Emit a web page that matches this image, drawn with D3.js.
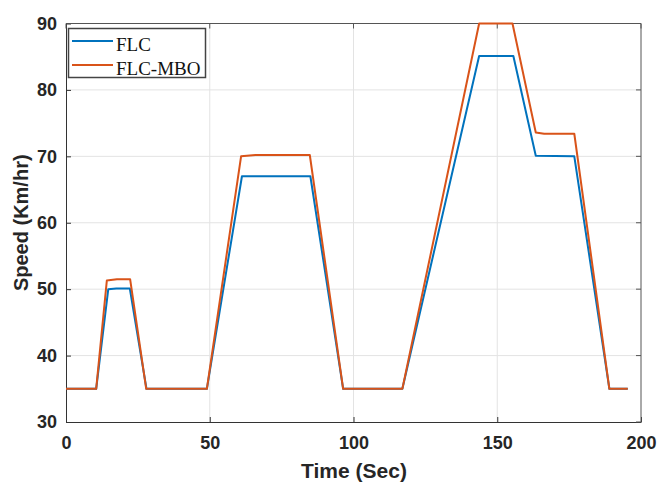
<!DOCTYPE html>
<html><head><meta charset="utf-8">
<script src="https://cdn.jsdelivr.net/npm/d3@7"></script>
<style>body{margin:0;background:#fff}</style>
</head><body>
<svg id="c" width="659" height="487"></svg>
<script>
const xTicks = [0, 50, 100, 150, 200];
const yTicks = [30, 40, 50, 60, 70, 80, 90];
const seriesNames = ["FLC", "FLC-MBO"];
const flcT = [0, 10.5, 14.7, 17.5, 22.2, 28, 49, 61.2, 85, 96.4, 117, 143.7, 155.6, 163.4, 176.8, 189, 195.4];
const flcV = [35, 35, 50, 50.1, 50.1, 35, 35, 67, 67, 35, 35, 85.1, 85.1, 70.1, 70, 35, 35];
const mboT = [0, 10.5, 14.2, 17.7, 22.3, 27.9, 49, 60.9, 65.9, 84.8, 96.4, 117, 143.7, 155.3, 163.4, 166.3, 176.8, 189, 195.4];
const mboV = [35, 35, 51.3, 51.5, 51.5, 35, 35, 70, 70.2, 70.2, 35, 35, 90, 90, 73.6, 73.4, 73.4, 35, 35];

const svg = d3.select("#c");
const L = 66, R = 641, T = 23.5, B = 422;
const x = d3.scaleLinear().domain([0, 200]).range([L, R]);
const y = d3.scaleLinear().domain([30, 90]).range([B, T]);

// grid
const g = svg.append("g");
g.selectAll(".gx").data(xTicks.slice(1, -1)).enter().append("line")
  .attr("x1", d => x(d)).attr("x2", d => x(d)).attr("y1", T).attr("y2", B)
  .attr("stroke", "#e3e3e3").attr("stroke-width", 1);
g.selectAll(".gy").data(yTicks.slice(1, -1)).enter().append("line")
  .attr("y1", d => y(d)).attr("y2", d => y(d)).attr("x1", L).attr("x2", R)
  .attr("stroke", "#e3e3e3").attr("stroke-width", 1);

// axes
const fontSans = "'Liberation Sans', Arial, sans-serif";
const xa = svg.append("g").attr("transform", `translate(0,${B})`)
  .call(d3.axisBottom(x).tickValues(xTicks).tickSizeInner(-5).tickSizeOuter(0).tickPadding(14));
const ya = svg.append("g").attr("transform", `translate(${L},0)`)
  .call(d3.axisLeft(y).tickValues(yTicks).tickSizeInner(-5).tickSizeOuter(0).tickPadding(9));
[xa, ya].forEach(a => {
  a.select(".domain").attr("stroke", "#333");
  a.selectAll(".tick line").attr("stroke", "#333");
  a.selectAll("text").attr("font-family", fontSans).attr("font-weight", "bold")
    .attr("font-size", 18).attr("fill", "#262626");
});
// top/right box
svg.append("line").attr("x1", L).attr("x2", R).attr("y1", T).attr("y2", T).attr("stroke", "#555");
svg.append("line").attr("x1", R).attr("x2", R).attr("y1", T).attr("y2", B).attr("stroke", "#555");
svg.selectAll(".tr").data(xTicks).enter().append("line")
  .attr("x1", d => x(d)).attr("x2", d => x(d)).attr("y1", T).attr("y2", T + 5).attr("stroke", "#555");
svg.selectAll(".rr").data(yTicks).enter().append("line")
  .attr("y1", d => y(d)).attr("y2", d => y(d)).attr("x1", R).attr("x2", R - 5).attr("stroke", "#555");

// lines
const line = d3.line().x(d => x(d[0])).y(d => y(d[1]));
const colors = ["#0072BD", "#D95319"];
const data = [d3.zip(flcT, flcV), d3.zip(mboT, mboV)];
data.forEach((d, i) => {
  svg.append("path").datum(d).attr("d", line).attr("fill", "none")
    .attr("stroke", colors[i]).attr("stroke-width", 2).attr("stroke-linejoin", "round");
});

// labels
svg.append("text").attr("x", 354).attr("y", 478).attr("text-anchor", "middle")
  .attr("font-family", fontSans).attr("font-weight", "bold").attr("font-size", 21).attr("fill", "#262626")
  .text("Time (Sec)");
svg.append("text").attr("transform", `translate(28,${(T + B) / 2}) rotate(-90)`).attr("text-anchor", "middle")
  .attr("font-family", fontSans).attr("font-weight", "bold").attr("font-size", 20).attr("fill", "#262626")
  .text("Speed (Km/hr)");

// legend
const lg = svg.append("g");
lg.append("rect").attr("x", 68.5).attr("y", 28.5).attr("width", 137).attr("height", 49)
  .attr("fill", "#fff").attr("stroke", "#444").attr("stroke-width", 1.5);
seriesNames.forEach((n, i) => {
  const yy = 41 + i * 24;
  lg.append("line").attr("x1", 72).attr("x2", 113).attr("y1", yy).attr("y2", yy)
    .attr("stroke", colors[i]).attr("stroke-width", 2);
  lg.append("text").attr("x", 116).attr("y", yy + 10).attr("font-family", "'Liberation Serif', 'Times New Roman', serif")
    .attr("font-size", 19).attr("fill", "#111").text(n);
});
</script>
</body></html>
